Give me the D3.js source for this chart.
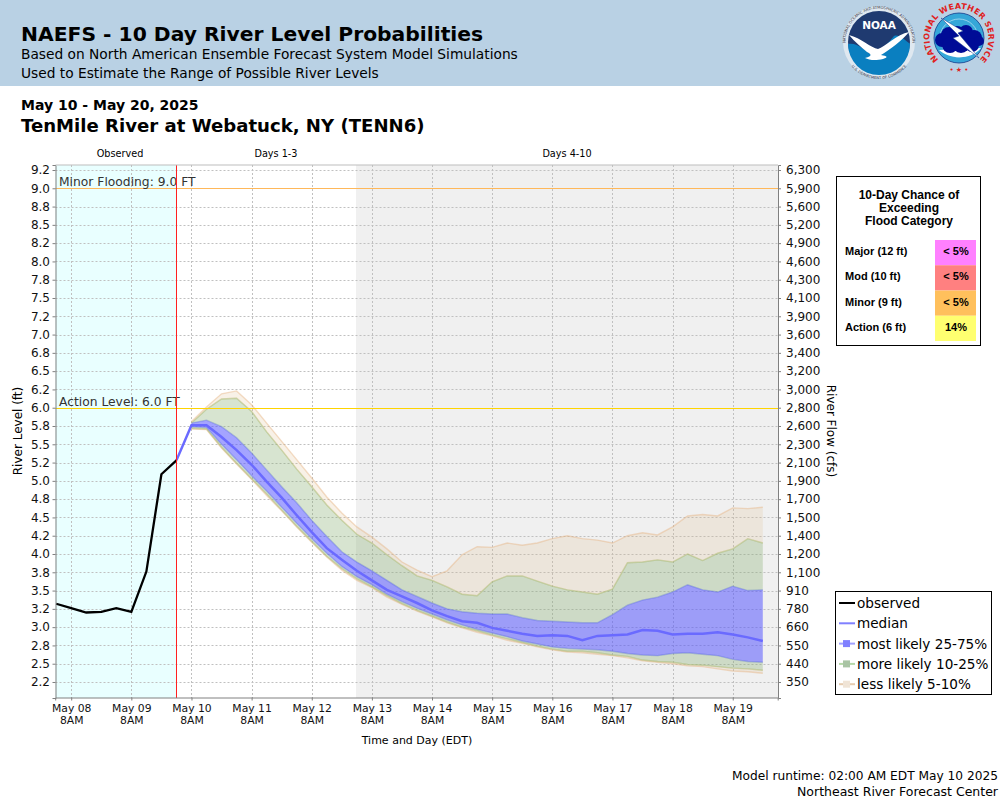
<!DOCTYPE html>
<html>
<head>
<meta charset="utf-8">
<script src="https://cdn.jsdelivr.net/npm/d3@7"></script>
<style>
	html, body { margin: 0; padding: 0; background: #fff; }
	svg { display: block; }
	text { font-family: "DejaVu Sans", sans-serif; fill: #000; }
	.tbl text { font-family: "Liberation Sans", Arial, sans-serif; font-weight: bold; }
	.axis path, .axis line { stroke: #808080; }
	.axis text { fill: #111; }
</style>
</head>
<body>
<svg id="chart" width="1000" height="800"></svg>
<script>
'use strict';

const levelTicks = [2.25, 2.5, 2.75, 3, 3.25, 3.5, 3.75, 4, 4.25, 4.5, 4.75, 5, 5.25, 5.5, 5.75, 6, 6.25, 6.5, 6.75, 7, 7.25, 7.5, 7.75, 8, 8.25, 8.5, 8.75, 9, 9.25];
const levelLabels = ['2.2', '2.5', '2.8', '3.0', '3.2', '3.5', '3.8', '4.0', '4.2', '4.5', '4.8', '5.0', '5.2', '5.5', '5.8', '6.0', '6.2', '6.5', '6.8', '7.0', '7.2', '7.5', '7.8', '8.0', '8.2', '8.5', '8.8', '9.0', '9.2'];
const flowLabels = ['350', '440', '550', '660', '780', '910', '1,100', '1,200', '1,400', '1,500', '1,700', '1,900', '2,100', '2,300', '2,600', '2,800', '3,000', '3,200', '3,400', '3,600', '3,900', '4,100', '4,300', '4,600', '4,900', '5,200', '5,600', '5,900', '6,300'];
const dayLabels = ['May 08', 'May 09', 'May 10', 'May 11', 'May 12', 'May 13', 'May 14', 'May 15', 'May 16', 'May 17', 'May 18', 'May 19'];

const observed = [3.32, 3.26, 3.20, 3.21, 3.26, 3.21, 3.76, 5.09, 5.28];
const median = [5.28, 5.76, 5.76, 5.60, 5.42, 5.22, 4.99, 4.77, 4.53, 4.30, 4.08, 3.92, 3.77, 3.64, 3.51, 3.42, 3.33, 3.23, 3.15, 3.08, 3.06, 2.99, 2.95, 2.91, 2.88, 2.89, 2.88, 2.82, 2.88, 2.89, 2.90, 2.96, 2.95, 2.90, 2.91, 2.91, 2.93, 2.90, 2.86, 2.81];
// bands begin one step after the first median point
const q95 = [5.81, 6.01, 6.19, 6.23, 6.04, 5.79, 5.54, 5.29, 5.04, 4.78, 4.56, 4.37, 4.23, 4.07, 3.89, 3.78, 3.69, 3.77, 3.99, 4.10, 4.09, 4.15, 4.12, 4.15, 4.21, 4.25, 4.21, 4.19, 4.15, 4.25, 4.29, 4.26, 4.37, 4.52, 4.54, 4.52, 4.63, 4.62, 4.64];
const q90 = [5.79, 5.98, 6.12, 6.13, 5.95, 5.67, 5.42, 5.16, 4.92, 4.67, 4.46, 4.27, 4.15, 3.99, 3.84, 3.70, 3.64, 3.55, 3.45, 3.43, 3.62, 3.70, 3.70, 3.63, 3.56, 3.51, 3.48, 3.45, 3.52, 3.88, 3.89, 3.92, 3.89, 4.00, 3.91, 4.01, 4.07, 4.21, 4.15];
const q75 = [5.79, 5.83, 5.74, 5.59, 5.38, 5.15, 4.92, 4.70, 4.46, 4.24, 4.03, 3.89, 3.77, 3.64, 3.51, 3.42, 3.33, 3.25, 3.21, 3.19, 3.18, 3.18, 3.13, 3.09, 3.08, 3.07, 3.06, 3.06, 3.17, 3.30, 3.37, 3.41, 3.48, 3.58, 3.51, 3.48, 3.56, 3.50, 3.51];
const q25 = [5.74, 5.73, 5.50, 5.29, 5.07, 4.86, 4.64, 4.42, 4.21, 4.01, 3.83, 3.69, 3.58, 3.45, 3.35, 3.26, 3.18, 3.10, 3.03, 2.97, 2.92, 2.87, 2.81, 2.77, 2.73, 2.71, 2.70, 2.69, 2.67, 2.64, 2.62, 2.61, 2.64, 2.65, 2.63, 2.61, 2.56, 2.53, 2.52];
const q10 = [5.72, 5.71, 5.46, 5.24, 5.03, 4.82, 4.60, 4.38, 4.17, 3.97, 3.80, 3.66, 3.55, 3.43, 3.32, 3.23, 3.15, 3.07, 3.00, 2.95, 2.89, 2.84, 2.79, 2.74, 2.70, 2.67, 2.67, 2.65, 2.62, 2.60, 2.55, 2.53, 2.52, 2.49, 2.48, 2.46, 2.44, 2.43, 2.41];
const q05 = [5.71, 5.70, 5.45, 5.23, 5.02, 4.80, 4.59, 4.37, 4.16, 3.96, 3.78, 3.64, 3.54, 3.41, 3.31, 3.22, 3.14, 3.06, 2.99, 2.93, 2.88, 2.82, 2.78, 2.73, 2.69, 2.66, 2.65, 2.63, 2.61, 2.58, 2.54, 2.52, 2.50, 2.47, 2.46, 2.43, 2.40, 2.39, 2.37];

const floodRows = ['Major (12 ft)', 'Mod (10 ft)', 'Minor (9 ft)', 'Action (6 ft)'];
const floodChances = ['< 5%', '< 5%', '< 5%', '14%'];
const floodColors = ['#ff80ff', '#ff8080', '#ffc05c', '#ffff70'];
const tableTitle = ['10-Day Chance of', 'Exceeding', 'Flood Category'];

const BLUE = 'rgba(80,80,255,0.52)', GREEN = 'rgba(130,170,110,0.32)', TAN = 'rgba(222,184,135,0.2)';
const BLUE_EDGE = 'rgba(100,100,255,0.3)', GREEN_EDGE = 'rgba(150,210,130,0.3)', TAN_EDGE = 'rgba(230,180,130,0.45)';

const hour = (d, h) => new Date(Date.UTC(2025, 4, d, h));
const svg = d3.select('#chart');

const x = d3.scaleUtc().domain([hour(8, 1).getTime() + 37 * 60000, hour(20, 1).getTime() + 57 * 60000]).range([55.2, 777.7]);
const y = d3.scaleLinear().domain([2.25 - 16 / 73.14, 9.25 + 5 / 73.14]).range([698, 165]);
const obsTime = i => new Date(hour(8, 2).getTime() + i * 6 * 3600000);
const fcstTime = i => new Date(hour(10, 2).getTime() + i * 6 * 3600000);
const bandTime = i => fcstTime(i + 1);
const crisp = v => Math.round(v) + 0.5;

/* header */
svg.append('rect').attr('width', 1000).attr('height', 86).attr('fill', '#b9d1e4');
const label = (t, px, py, size, weight, anchor) => svg.append('text').text(t)
	.attr('x', px).attr('y', py).attr('font-size', size)
	.attr('font-weight', weight || 'normal').attr('text-anchor', anchor || 'start');
label('NAEFS - 10 Day River Level Probabilities', 21, 41, 20.3, 'bold');
label('Based on North American Ensemble Forecast System Model Simulations', 21, 59, 13.75);
label('Used to Estimate the Range of Possible River Levels', 21, 78, 13.75);
label('May 10 - May 20, 2025', 21, 110, 14, 'bold');
label('TenMile River at Webatuck, NY (TENN6)', 21, 132, 18.1, 'bold');

/* logos */
function noaaLogo(cx, cy) {
	const g = svg.append('g').attr('transform', `translate(${cx},${cy})`);
	g.append('circle').attr('r', 36).attr('fill', '#dfe8f0');
	g.append('circle').attr('r', 31).attr('fill', '#1f3a70');
	g.append('path').attr('d', 'M-31,2 A31,31 0 0 0 31,2 C26,-2 20,-8 15,-6 C5,6 -1,12 -6,14 C-14,8 -22,0 -31,2 Z').attr('fill', '#0a7fc0');
	g.append('path').attr('d', 'M-30,-7 C-18,-4 -8,6 -1,7 C6,5 18,-8 30,-10 C24,-2 10,8 2,13 C8,14 10,15 4,17 C-4,19 -10,18 -14,16 C-6,14 -8,12 -12,10 C-18,5 -24,0 -30,-7 Z').attr('fill', '#fff');
	g.append('text').text('NOAA').attr('y', -13).attr('text-anchor', 'middle').attr('font-size', 10.5).attr('font-weight', 'bold').style('fill', '#fff');
	g.append('path').attr('id', 'noaaTop').attr('d', 'M-33,6 A33.5,33.5 0 1 1 33,6').attr('fill', 'none');
	g.append('path').attr('id', 'noaaBot').attr('d', 'M-30,21 A36,36 0 0 0 30,21').attr('fill', 'none');
	g.append('text').attr('font-size', 3.7).style('fill', '#334').append('textPath').attr('href', '#noaaTop').attr('startOffset', '50%').attr('text-anchor', 'middle')
		.text('NATIONAL OCEANIC AND ATMOSPHERIC ADMINISTRATION');
	g.append('text').attr('font-size', 3.7).style('fill', '#334').append('textPath').attr('href', '#noaaBot').attr('startOffset', '50%').attr('text-anchor', 'middle')
		.text('U.S. DEPARTMENT OF COMMERCE');
}
function nwsLogo(cx, cy) {
	const g = svg.append('g').attr('transform', `translate(${cx},${cy})`);
	g.append('circle').attr('r', 25).attr('fill', '#35a7d8').attr('stroke', '#123a8c').attr('stroke-width', 0.8);
	g.append('circle').attr('r', 19).attr('fill', 'none').attr('stroke', '#bfe4f4').attr('stroke-width', 0.7);
	g.append('path').attr('d', 'M-20,12 C-8,22 12,22 22,10 Z').attr('fill', '#fff');
	[[-17, 2, 7], [-10, -3, 8], [-2, -4, 8], [7, -6, 7], [15, 0, 8], [-9, 7, 8], [2, 6, 9], [13, 7, 7], [20, 3, 5]].forEach(([a, b, r]) =>
		g.append('circle').attr('cx', a).attr('cy', b).attr('r', r).attr('fill', '#000c96'));
	g.append('path').attr('d', 'M-18,-20 L4,-7 L-1,-5 L20,20 L-6,0 L0,-2 Z').attr('fill', '#fff').attr('stroke', '#123a8c').attr('stroke-width', 0.5);
	g.append('path').attr('id', 'nwsTop').attr('d', 'M-21,21 A29.5,29.5 0 1 1 21,21').attr('fill', 'none');
	g.append('text').attr('font-size', 8).attr('font-weight', 'bold').attr('letter-spacing', 0.3).style('fill', '#e02020').append('textPath').attr('href', '#nwsTop').attr('startOffset', '50%').attr('text-anchor', 'middle')
		.text('NATIONAL WEATHER SERVICE');
	g.append('text').text('• ★ •').attr('y', 34).attr('text-anchor', 'middle').attr('font-size', 7).style('fill', '#e02020');
}
noaaLogo(879, 42);
nwsLogo(959, 38);

/* plot background */
const grayStart = Math.floor(x(fcstTime(12)));
svg.append('rect').attr('x', 55.5).attr('y', 165).attr('width', 722.5).attr('height', 533).attr('fill', '#fff');
svg.append('rect').attr('x', 55.5).attr('y', 165).attr('width', x(fcstTime(0)) - 55.5).attr('height', 533).attr('fill', '#e9ffff');
svg.append('rect').attr('x', grayStart).attr('y', 165).attr('width', 778 - grayStart).attr('height', 533).attr('fill', '#f0f0f0');

/* grid */
const dayTicks = dayLabels.map((d, i) => hour(8 + i, 8));
const grid = svg.append('g').attr('stroke', '#c0c0c0').attr('stroke-dasharray', '2,2');
grid.selectAll('.h').data(levelTicks).join('line').attr('x1', 55.5).attr('x2', 778).attr('y1', d => crisp(y(d))).attr('y2', d => crisp(y(d)));
grid.selectAll('.v').data(dayTicks).join('line').attr('y1', 165).attr('y2', 698).attr('x1', d => crisp(x(d))).attr('x2', d => crisp(x(d)));

/* bands */
const band = (lo, hi, fill, edge) => {
	const idx = d3.range(lo.length);
	svg.append('path').attr('fill', fill)
		.attr('d', d3.area().x(i => x(bandTime(i))).y0(i => y(lo[i])).y1(i => y(hi[i]))(idx));
	[lo, hi].forEach(s => svg.append('path').attr('fill', 'none').attr('stroke', edge).attr('stroke-width', 1.4)
		.attr('d', d3.line().x(i => x(bandTime(i))).y(i => y(s[i]))(idx)));
};
band(q90, q95, TAN, TAN_EDGE);
band(q05, q10, TAN, TAN_EDGE);
band(q75, q90, GREEN, GREEN_EDGE);
band(q10, q25, GREEN, GREEN_EDGE);
band(q25, q75, BLUE, BLUE_EDGE);

/* median and observed */
svg.append('path').attr('fill', 'none').attr('stroke', '#6a6aff').attr('stroke-width', 2.5)
	.attr('d', d3.line().x((d, i) => x(fcstTime(i))).y(d => y(d))(median));
svg.append('path').attr('fill', 'none').attr('stroke', '#000').attr('stroke-width', 2.3)
	.attr('d', d3.line().x((d, i) => x(obsTime(i))).y(d => y(d))(observed));

/* thresholds */
const thresholds = [[9, 'Minor Flooding: 9.0 FT', '#ffb85a'], [6, 'Action Level: 6.0 FT', '#ffd400']];
thresholds.forEach(([v, t, c]) => {
	svg.append('line').attr('x1', 55.5).attr('x2', 778).attr('y1', crisp(y(v))).attr('y2', crisp(y(v))).attr('stroke', c).attr('stroke-width', 1);
	svg.append('text').text(t).attr('x', 59).attr('y', y(v) - 2).attr('font-size', 12.3).style('fill', '#333');
});
svg.append('line').attr('x1', crisp(x(fcstTime(0)))).attr('x2', crisp(x(fcstTime(0)))).attr('y1', 165).attr('y2', 698).attr('stroke', '#ff2020').attr('stroke-width', 1);

/* axes */
const axisLeft = svg.append('g').attr('class', 'axis').attr('transform', 'translate(55.5,0)')
	.call(d3.axisLeft(y).tickValues(levelTicks).tickFormat((d, i) => levelLabels[i]).tickSize(3).tickPadding(2.5));
const axisRight = svg.append('g').attr('class', 'axis').attr('transform', 'translate(778,0)')
	.call(d3.axisRight(y).tickValues(levelTicks).tickFormat((d, i) => flowLabels[i]).tickSize(3).tickPadding(5));
const axisBottom = svg.append('g').attr('class', 'axis').attr('transform', 'translate(0,697.5)')
	.call(d3.axisBottom(x).tickValues(dayTicks).tickFormat((d, i) => dayLabels[i]).tickSize(3).tickPadding(3.5));
[axisLeft, axisRight].forEach(a => a.selectAll('text').attr('font-size', 12).attr('font-family', '"DejaVu Sans"'));
axisBottom.selectAll('text').attr('font-size', 10.8).attr('font-family', '"DejaVu Sans"');
axisBottom.selectAll('.tick').append('text').text('8AM').attr('y', 18.5).attr('dy', '0.71em').attr('font-size', 10.8).attr('font-family', '"DejaVu Sans"').attr('text-anchor', 'middle');
svg.append('line').attr('x1', 55.5).attr('x2', 778).attr('y1', 165).attr('y2', 165).attr('stroke', '#bdbdbd');

label('Time and Day (EDT)', 417, 744, 11, 'normal', 'middle');
svg.append('text').text('River Level (ft)').attr('transform', 'translate(22,431) rotate(-90)').attr('text-anchor', 'middle').attr('font-size', 12);
svg.append('text').text('River Flow (cfs)').attr('transform', 'translate(827,431) rotate(90)').attr('text-anchor', 'middle').attr('font-size', 12);
label('Observed', 120, 157, 9.7, 'normal', 'middle');
label('Days 1-3', 276, 157, 9.7, 'normal', 'middle');
label('Days 4-10', 567, 157, 9.7, 'normal', 'middle');

/* flood category table */
const tbl = svg.append('g').attr('class', 'tbl');
tbl.append('rect').attr('x', 836.5).attr('y', 176.5).attr('width', 144).attr('height', 169).attr('fill', '#fff').attr('stroke', '#000');
tbl.selectAll('.ttl').data(tableTitle).join('text').text(d => d).attr('x', 909).attr('y', (d, i) => 199 + i * 13).attr('text-anchor', 'middle').attr('font-size', 12);
const rowY = d3.scaleBand().domain(floodRows).range([240, 341]);
tbl.selectAll('.cell').data(floodRows).join('rect').attr('x', 935).attr('width', 41).attr('y', d => rowY(d)).attr('height', rowY.bandwidth()).attr('fill', (d, i) => floodColors[i]);
tbl.selectAll('.row').data(floodRows).join('text').text(d => d).attr('x', 845).attr('y', d => rowY(d) + 15).attr('font-size', 11);
tbl.selectAll('.pct').data(floodChances).join('text').text(d => d).attr('x', 956).attr('y', (d, i) => rowY(floodRows[i]) + 15).attr('text-anchor', 'middle').attr('font-size', 11);

/* legend */
const legendItems = [
	['observed', '#000', null],
	['median', '#8080ff', null],
	['most likely 25-75%', '#a0a0ff', '#8080ff'],
	['more likely 10-25%', '#b5d8a8', '#a9c4a4'],
	['less likely 5-10%', '#e6ccb0', '#f0e4d6']
];
const leg = svg.append('g');
leg.append('rect').attr('x', 835.5).attr('y', 591.5).attr('width', 156).attr('height', 103).attr('fill', '#fff').attr('stroke', '#000');
legendItems.forEach(([t, stroke, swatch], i) => {
	const ly = 603 + i * 20.3;
	leg.append('line').attr('x1', 839).attr('x2', 855).attr('y1', ly).attr('y2', ly).attr('stroke', stroke).attr('stroke-width', 2);
	if (swatch) leg.append('rect').attr('x', 843).attr('y', ly - 3.5).attr('width', 7).attr('height', 7).attr('fill', swatch);
	leg.append('text').text(t).attr('x', 857).attr('y', ly + 5).attr('font-size', 13.6);
});

/* footer */
label('Model runtime: 02:00 AM EDT May 10 2025', 998, 780, 12.2, 'normal', 'end');
label('Northeast River Forecast Center', 998, 796, 12.5, 'normal', 'end');
</script>
</body>
</html>
